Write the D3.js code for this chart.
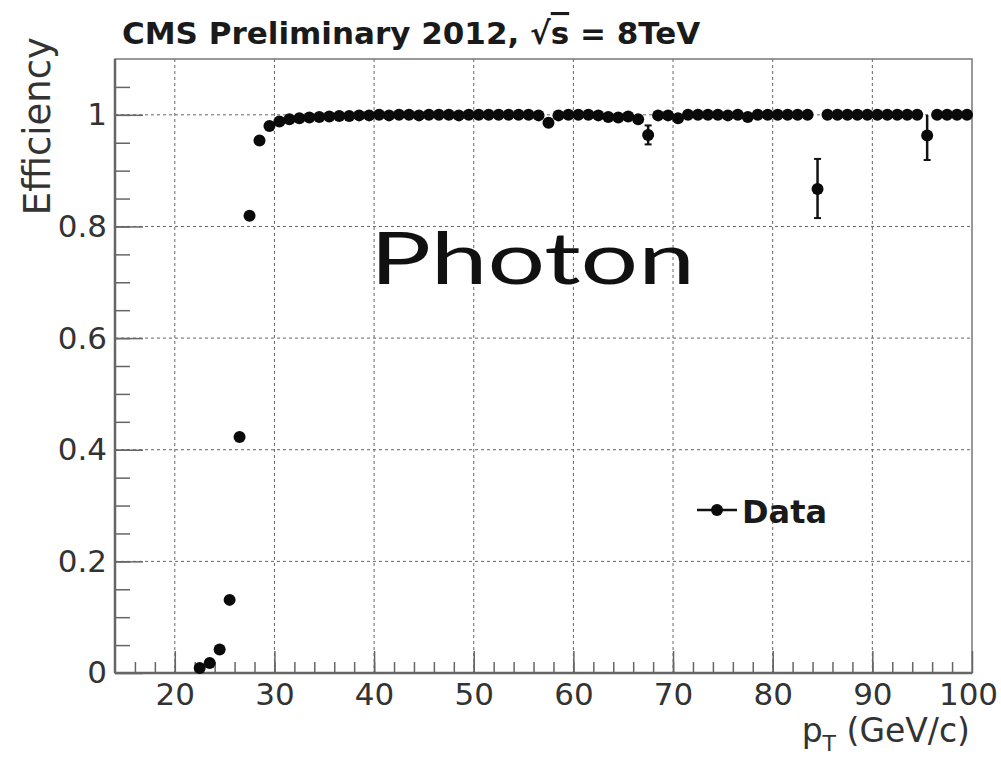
<!DOCTYPE html>
<html>
<head>
<meta charset="utf-8">
<script src="https://cdn.jsdelivr.net/npm/d3@7"></script>
<style>
  body { margin: 0; background: #fff; }
  text { font-family: "DejaVu Sans", sans-serif; fill: #222; }
</style>
</head>
<body>
<div id="chart"></div>
<script>
// bin centres (GeV/c) and measured efficiency
const ptBins = d3.range(22.5, 100, 1);
const efficiency = [
  0.009, 0.018, 0.042, 0.131, 0.423, 0.819, 0.954, 0.980, 0.988, 0.992,
  0.994, 0.995, 0.996, 0.997, 0.998, 0.998, 0.999, 0.999, 1.000, 0.999,
  1.000, 1.000, 0.999, 1.000, 1.000, 1.000, 0.999, 1.000, 1.000, 1.000,
  1.000, 1.000, 1.000, 1.000, 0.999, 0.986, 0.999, 1.000, 1.000, 1.000,
  0.999, 0.996, 0.995, 0.997, 0.992, 0.964, 0.999, 0.999, 0.994, 1.000,
  1.000, 1.000, 1.000, 0.999, 1.000, 0.996, 1.000, 1.000, 1.000, 1.000,
  1.000, 1.000, 0.867, 1.000, 1.000, 1.000, 1.000, 1.000, 1.000, 1.000,
  1.000, 1.000, 1.000, 0.963, 1.000, 1.000, 1.000, 1.000
];
const errLow = ptBins.map(() => 0.003);
const errHigh = ptBins.map(() => 0.001);
errLow[ptBins.indexOf(67.5)] = 0.017; errHigh[ptBins.indexOf(67.5)] = 0.017;
errLow[ptBins.indexOf(84.5)] = 0.052; errHigh[ptBins.indexOf(84.5)] = 0.054;
errLow[ptBins.indexOf(95.5)] = 0.044; errHigh[ptBins.indexOf(95.5)] = 0.037;

const xMajor = [20, 30, 40, 50, 60, 70, 80, 90, 100];
const xMinor = d3.range(16, 100, 2);
const yMajor = [0, 0.2, 0.4, 0.6, 0.8, 1];
const yMinor = d3.range(0.05, 1.1, 0.05);
const yLabels = ["0", "0.2", "0.4", "0.6", "0.8", "1"];

const width = 1001, height = 760;
const frame = { left: 115, right: 972, top: 59, bottom: 673 };

const svg = d3.select("#chart").append("svg")
    .attr("width", width)
    .attr("height", height)
    .style("background-color", "white");

const x = d3.scaleLinear().domain([14, 100]).range([frame.left, frame.right]);
const y = d3.scaleLinear().domain([0, 1.1]).range([frame.bottom, frame.top]);

// dotted grid
svg.append("g").selectAll("line")
    .data(xMajor.filter(d => d < 100))
    .enter().append("line")
    .attr("x1", d => x(d)).attr("x2", d => x(d))
    .attr("y1", frame.top).attr("y2", frame.bottom)
    .style("stroke", "#666").style("stroke-dasharray", "3,3");
svg.append("g").selectAll("line")
    .data(yMajor.filter(d => d > 0))
    .enter().append("line")
    .attr("x1", frame.left).attr("x2", frame.right)
    .attr("y1", d => y(d)).attr("y2", d => y(d))
    .style("stroke", "#666").style("stroke-dasharray", "3,3");

// frame
svg.append("rect")
    .attr("x", frame.left).attr("y", frame.top)
    .attr("width", frame.right - frame.left)
    .attr("height", frame.bottom - frame.top)
    .style("fill", "none").style("stroke", "#777").style("stroke-width", 1.5);

// minor ticks
svg.append("g")
    .attr("transform", `translate(0,${frame.bottom})`)
    .call(d3.axisBottom(x).tickValues(xMinor).tickSize(-11).tickFormat(""))
    .call(g => g.select(".domain").remove());
svg.append("g")
    .attr("transform", `translate(${frame.left},0)`)
    .call(d3.axisLeft(y).tickValues(yMinor).tickSize(-15).tickFormat(""))
    .call(g => g.select(".domain").remove());

// major ticks and labels
const xAxis = svg.append("g")
    .attr("transform", `translate(0,${frame.bottom})`)
    .call(d3.axisBottom(x).tickValues(xMajor).tickSizeInner(-22).tickSizeOuter(0).tickPadding(10));
xAxis.select(".domain").remove();

const yAxis = svg.append("g")
    .attr("transform", `translate(${frame.left},0)`)
    .call(d3.axisLeft(y).tickValues(yMajor).tickSizeInner(-28).tickSizeOuter(0).tickPadding(8)
        .tickFormat((d, i) => yLabels[i]));
yAxis.select(".domain").remove();

svg.selectAll(".tick line").style("stroke", "#666").style("stroke-width", 1.5);
svg.selectAll(".tick text").style("font-size", "31px").style("fill", "#333")
    .style("font-family", "DejaVu Sans, sans-serif");
// keep the last x label inside the canvas
xAxis.selectAll(".tick text").filter(d => d === 100).attr("dx", -4);

// axis lines drawn on top
svg.append("line")
    .attr("x1", frame.left).attr("x2", frame.right)
    .attr("y1", frame.bottom).attr("y2", frame.bottom)
    .style("stroke", "#666").style("stroke-width", 2.5);
svg.append("line")
    .attr("x1", frame.left).attr("x2", frame.left)
    .attr("y1", frame.top).attr("y2", frame.bottom)
    .style("stroke", "#666").style("stroke-width", 2.5);

// data points with error bars
const points = ptBins.map((pt, i) => ({ pt, eff: efficiency[i], lo: errLow[i], hi: errHigh[i] }));

const bars = svg.append("g").selectAll("g")
    .data(points)
    .enter().append("g");
bars.append("line")
    .attr("x1", d => x(d.pt)).attr("x2", d => x(d.pt))
    .attr("y1", d => y(d.eff - d.lo)).attr("y2", d => y(Math.min(d.eff + d.hi, 1.0)))
    .style("stroke", "#111").style("stroke-width", 2.5);
bars.append("line")
    .attr("x1", d => x(d.pt - 0.5)).attr("x2", d => x(d.pt + 0.5))
    .attr("y1", d => y(d.eff)).attr("y2", d => y(d.eff))
    .style("stroke", "#111").style("stroke-width", 2);
bars.filter(d => d.lo > 0.01).append("line")
    .attr("x1", d => x(d.pt) - 3.5).attr("x2", d => x(d.pt) + 3.5)
    .attr("y1", d => y(d.eff - d.lo)).attr("y2", d => y(d.eff - d.lo))
    .style("stroke", "#111").style("stroke-width", 2);
bars.filter(d => d.hi > 0.01 && d.eff + d.hi < 1.0).append("line")
    .attr("x1", d => x(d.pt) - 3.5).attr("x2", d => x(d.pt) + 3.5)
    .attr("y1", d => y(d.eff + d.hi)).attr("y2", d => y(d.eff + d.hi))
    .style("stroke", "#111").style("stroke-width", 2);

svg.append("g").selectAll("circle")
    .data(points)
    .enter().append("circle")
    .attr("cx", d => x(d.pt))
    .attr("cy", d => y(d.eff))
    .attr("r", 6)
    .style("fill", "#0a0a0a");

// title
const title = svg.append("text")
    .attr("x", 122).attr("y", 44)
    .style("font-size", "31px").style("font-weight", "bold").style("fill", "#1a1a1a");
title.append("tspan").text("CMS Preliminary 2012, √");
title.append("tspan").text("s").style("text-decoration", "overline");
title.append("tspan").text(" = 8TeV");

// axis titles
svg.append("text")
    .attr("transform", "translate(50,37) rotate(-90)")
    .attr("text-anchor", "end")
    .style("font-size", "37px").style("fill", "#333")
    .text("Efficiency");

const xTitle = svg.append("text")
    .attr("x", 970).attr("y", 742)
    .attr("text-anchor", "end")
    .style("font-size", "33px").style("fill", "#333");
xTitle.append("tspan").text("p");
xTitle.append("tspan").text("T").attr("dy", 9).style("font-size", "22px");
xTitle.append("tspan").text(" (GeV/c)").attr("dy", -9);

// legend
svg.append("line")
    .attr("x1", 697).attr("x2", 737).attr("y1", 510).attr("y2", 510)
    .style("stroke", "#111").style("stroke-width", 2.5);
svg.append("circle")
    .attr("cx", 717).attr("cy", 510).attr("r", 6)
    .style("fill", "#0a0a0a");
svg.append("text")
    .attr("x", 742).attr("y", 523)
    .style("font-size", "32px").style("font-weight", "bold").style("fill", "#1a1a1a")
    .text("Data");

// slide overlay label
svg.append("text")
    .attr("x", 370).attr("y", 284)
    .attr("textLength", 325).attr("lengthAdjust", "spacingAndGlyphs")
    .style("font-family", "Lato, sans-serif")
    .style("font-size", "72px").style("fill", "#111")
    .text("Photon");
</script>
</body>
</html>
